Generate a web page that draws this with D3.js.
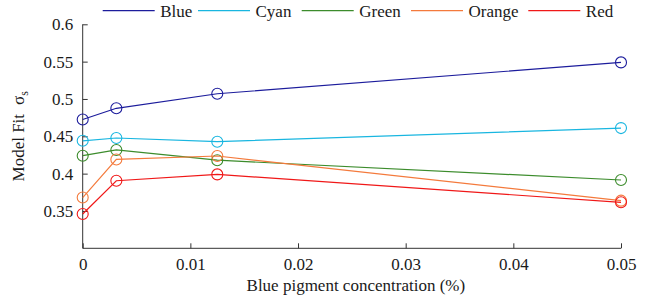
<!DOCTYPE html>
<html>
<head>
<meta charset="utf-8">
<script src="https://cdn.jsdelivr.net/npm/d3@7"></script>
</head>
<body style="margin:0;background:#fff">
<svg width="660" height="301"></svg>
<script>
const concentration = [0, 0.003125, 0.0125, 0.05];
const seriesNames = ['Blue', 'Cyan', 'Green', 'Orange', 'Red'];
const seriesColors = ['#1c1c9c', '#19b6e0', '#3c8c2c', '#f47a3c', '#f01818'];
const blueFit = [0.4725, 0.4875, 0.507, 0.549];
const cyanFit = [0.444, 0.4477, 0.4428, 0.461];
const greenFit = [0.424, 0.4317, 0.418, 0.3915];
const orangeFit = [0.368, 0.419, 0.4236, 0.3638];
const redFit = [0.346, 0.3905, 0.399, 0.3616];
const xTicks = [0, 0.01, 0.02, 0.03, 0.04, 0.05];
const yTicks = [0.35, 0.4, 0.45, 0.5, 0.55, 0.6];

const FONT = "'Liberation Serif', 'Times New Roman', serif";

const series = [blueFit, cyanFit, greenFit, orangeFit, redFit].map((vals, i) => ({
  name: seriesNames[i],
  color: seriesColors[i],
  points: vals.map((v, j) => ({ x: concentration[j], y: v }))
}));

const x = d3.scaleLinear().domain([0, 0.05]).range([82.7, 621]);
const y = d3.scaleLinear().domain([0.3, 0.6]).range([248.3, 24.3]);

const svg = d3.select('svg');

// axes, ticks point inward
const xAxis = svg.append('g')
  .attr('transform', `translate(0, ${y(0.3)})`)
  .call(d3.axisBottom(x).tickValues(xTicks).tickSize(-5).tickSizeOuter(0).tickPadding(10)
    .tickFormat(d => d === 0 ? '0' : d3.format('.2f')(d)));
const yAxis = svg.append('g')
  .attr('transform', `translate(${x(0)}, 0)`)
  .call(d3.axisLeft(y).tickValues(yTicks).tickSize(-5).tickSizeOuter(0).tickPadding(9.5)
    .tickFormat(d => String(+d.toFixed(2))));

[xAxis, yAxis].forEach(a => {
  a.attr('font-family', FONT);
  a.select('.domain').attr('stroke', '#333');
  a.selectAll('.tick line').attr('stroke', '#333');
  a.selectAll('.tick text').attr('font-size', 17).attr('fill', '#1a1a1a');
});
yAxis.select('.domain').attr('d', `M0,${y(0.6)}V${y(0.3)}`);
xAxis.select('.domain').attr('d', `M${x(0)},0H${x(0.05)}`);

// axis titles
svg.append('text')
  .attr('x', (x(0) + x(0.05)) / 2 + 4)
  .attr('y', 291)
  .attr('text-anchor', 'middle')
  .attr('font-size', 17)
  .attr('fill', '#1a1a1a')
  .attr('font-family', FONT)
  .text('Blue pigment concentration (%)');

const yLabel = svg.append('text')
  .attr('transform', `translate(24, ${(y(0.3) + y(0.6)) / 2}) rotate(-90)`)
  .attr('text-anchor', 'middle')
  .attr('font-size', 17)
  .attr('fill', '#1a1a1a')
  .attr('font-family', FONT);
yLabel.append('tspan').text('Model Fit');
yLabel.append('tspan').attr('dx', 9).text('σ');
yLabel.append('tspan').attr('font-size', 12).attr('dy', 4).text('s');

// lines + markers
const line = d3.line().x(d => x(d.x)).y(d => y(d.y));
const g = svg.append('g');
series.forEach(s => {
  g.append('path')
    .datum(s.points)
    .attr('d', line)
    .attr('fill', 'none')
    .attr('stroke', s.color)
    .attr('stroke-width', 1.2);
  g.selectAll(null)
    .data(s.points)
    .enter()
    .append('circle')
    .attr('cx', d => x(d.x))
    .attr('cy', d => y(d.y))
    .attr('r', 5.5)
    .attr('fill', 'none')
    .attr('stroke', s.color)
    .attr('stroke-width', 1.1);
});

// legend
const legendX = [102.7, 198, 301.7, 411, 528.3];
const legend = svg.append('g');
series.forEach((s, i) => {
  legend.append('line')
    .attr('x1', legendX[i]).attr('x2', legendX[i] + 52)
    .attr('y1', 10.7).attr('y2', 10.7)
    .attr('stroke', s.color)
    .attr('stroke-width', 1.3);
  legend.append('text')
    .attr('x', legendX[i] + 57.5)
    .attr('y', 16.5)
    .attr('font-size', 17)
    .attr('fill', '#1a1a1a')
    .attr('font-family', FONT)
    .text(s.name);
});
</script>
</body>
</html>
